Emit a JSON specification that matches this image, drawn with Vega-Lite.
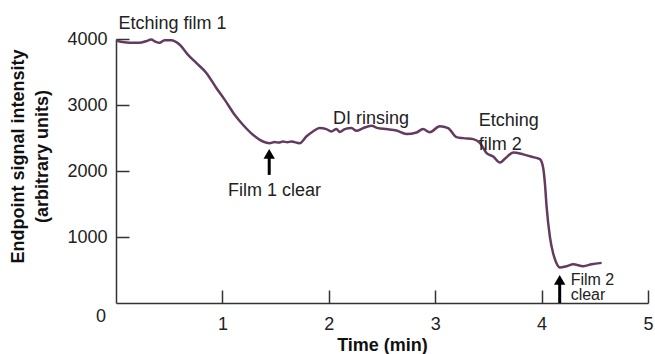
{
  "$schema": "https://vega.github.io/schema/vega-lite/v6.json",
  "width": 532,
  "height": 264,
  "autosize": "none",
  "padding": {"left": 116, "top": 39, "right": 7, "bottom": 51},
  "background": "white",
  "config": {"view": {"stroke": null}, "font": "Liberation Sans"},
  "datasets": {
    "curve": [
      {"t": 0.0, "v": 3977}, {"t": 0.06, "v": 3955}, {"t": 0.127, "v": 3942}, {"t": 0.221, "v": 3942},
      {"t": 0.28, "v": 3965}, {"t": 0.331, "v": 3992}, {"t": 0.37, "v": 3960}, {"t": 0.409, "v": 3942},
      {"t": 0.456, "v": 3982}, {"t": 0.519, "v": 3982}, {"t": 0.597, "v": 3916}, {"t": 0.675, "v": 3764},
      {"t": 0.754, "v": 3638}, {"t": 0.849, "v": 3486}, {"t": 0.943, "v": 3258}, {"t": 1.021, "v": 3081},
      {"t": 1.115, "v": 2853}, {"t": 1.193, "v": 2701}, {"t": 1.287, "v": 2549}, {"t": 1.381, "v": 2447},
      {"t": 1.444, "v": 2422}, {"t": 1.491, "v": 2438}, {"t": 1.53, "v": 2430}, {"t": 1.569, "v": 2447},
      {"t": 1.61, "v": 2435}, {"t": 1.648, "v": 2447}, {"t": 1.726, "v": 2422}, {"t": 1.789, "v": 2523},
      {"t": 1.851, "v": 2599}, {"t": 1.914, "v": 2650}, {"t": 1.977, "v": 2635}, {"t": 2.024, "v": 2599},
      {"t": 2.072, "v": 2635}, {"t": 2.103, "v": 2590}, {"t": 2.15, "v": 2635}, {"t": 2.213, "v": 2650},
      {"t": 2.26, "v": 2609}, {"t": 2.322, "v": 2650}, {"t": 2.401, "v": 2685}, {"t": 2.463, "v": 2650},
      {"t": 2.542, "v": 2635}, {"t": 2.636, "v": 2614}, {"t": 2.73, "v": 2559}, {"t": 2.824, "v": 2584},
      {"t": 2.886, "v": 2635}, {"t": 2.949, "v": 2587}, {"t": 3.043, "v": 2678}, {"t": 3.121, "v": 2650},
      {"t": 3.2, "v": 2514}, {"t": 3.262, "v": 2498}, {"t": 3.357, "v": 2483}, {"t": 3.42, "v": 2427},
      {"t": 3.483, "v": 2271}, {"t": 3.545, "v": 2219}, {"t": 3.608, "v": 2128}, {"t": 3.671, "v": 2210},
      {"t": 3.733, "v": 2280}, {"t": 3.827, "v": 2252}, {"t": 3.921, "v": 2210}, {"t": 3.984, "v": 2179},
      {"t": 4.015, "v": 2047}, {"t": 4.031, "v": 1815}, {"t": 4.047, "v": 1459}, {"t": 4.078, "v": 1003},
      {"t": 4.109, "v": 751}, {"t": 4.141, "v": 599}, {"t": 4.172, "v": 538}, {"t": 4.235, "v": 558},
      {"t": 4.297, "v": 588}, {"t": 4.391, "v": 558}, {"t": 4.47, "v": 588}, {"t": 4.564, "v": 608}
    ],
    "arrows": [
      {"t": 1.44, "v": 1941, "v2": 2260},
      {"t": 4.17, "v": 0, "v2": 350}
    ],
    "heads": [
      {"t": 1.44, "v": 2260},
      {"t": 4.17, "v": 350}
    ],
    "bigLabels": [
      {"t": 0.024, "v": 4155, "label": "Etching film 1"},
      {"t": 2.04, "v": 2716, "label": "DI rinsing"},
      {"t": 3.41, "v": 2675, "label": "Etching|film 2"},
      {"t": 1.052, "v": 1622, "label": "Film 1 clear"}
    ],
    "smallLabels": [
      {"t": 4.273, "v": 280, "label": "Film 2|clear"}
    ],
    "zero": [
      {"t": 0, "v": 0, "label": "0"}
    ]
  },
  "layer": [
    {
      "data": {"name": "curve"},
      "mark": {"type": "line", "color": "#633b5e", "strokeWidth": 2.5, "interpolate": "monotone"},
      "encoding": {
        "x": {
          "field": "t", "type": "quantitative",
          "scale": {"domain": [0, 5], "nice": false, "zero": false},
          "axis": {
            "values": [1, 2, 3, 4, 5], "format": "d", "title": "Time (min)", "grid": false,
            "tickSize": -13, "labelPadding": 25, "labelFlush": false, "labelOverlap": false,
            "domainColor": "#333", "tickColor": "#333", "domainWidth": 1.5, "tickWidth": 1.5,
            "labelFont": "Liberation Sans", "labelFontSize": 18, "labelColor": "#222",
            "titleFont": "Liberation Sans", "titleFontSize": 18, "titleFontWeight": "bold", "titleColor": "#111",
            "titleY": 47, "titleBaseline": "alphabetic"
          }
        },
        "y": {
          "field": "v", "type": "quantitative",
          "scale": {"domain": [0, 4000], "nice": false},
          "axis": {
            "values": [1000, 2000, 3000, 4000], "format": "d", "title": ["Endpoint signal intensity", "(arbitrary units)"], "grid": false,
            "tickSize": -13, "labelPadding": 22, "labelOverlap": false, "labelFlush": false,
            "domainColor": "#333", "tickColor": "#333", "domainWidth": 1.5, "tickWidth": 1.5,
            "labelFont": "Liberation Sans", "labelFontSize": 18, "labelColor": "#222",
            "titleFont": "Liberation Sans", "titleFontSize": 18, "titleFontWeight": "bold", "titleColor": "#111",
            "titleAngle": -90, "titleAlign": "center", "titleBaseline": "middle", "titleLineHeight": 24,
            "titleX": -98, "titleY": 117
          }
        }
      }
    },
    {
      "data": {"name": "arrows"},
      "mark": {"type": "rule", "color": "#000", "strokeWidth": 3},
      "encoding": {
        "x": {"field": "t", "type": "quantitative"},
        "y": {"field": "v", "type": "quantitative"},
        "y2": {"field": "v2"}
      }
    },
    {
      "data": {"name": "heads"},
      "mark": {"type": "point", "shape": "triangle-up", "filled": true, "color": "#000", "size": 130, "opacity": 1},
      "encoding": {
        "x": {"field": "t", "type": "quantitative"},
        "y": {"field": "v", "type": "quantitative"}
      }
    },
    {
      "data": {"name": "bigLabels"},
      "mark": {"type": "text", "align": "left", "baseline": "alphabetic", "font": "Liberation Sans", "fontSize": 18, "color": "#222", "lineBreak": "|", "lineHeight": 24},
      "encoding": {
        "x": {"field": "t", "type": "quantitative"},
        "y": {"field": "v", "type": "quantitative"},
        "text": {"field": "label"}
      }
    },
    {
      "data": {"name": "smallLabels"},
      "mark": {"type": "text", "align": "left", "baseline": "alphabetic", "font": "Liberation Sans", "fontSize": 16, "color": "#222", "lineBreak": "|", "lineHeight": 15},
      "encoding": {
        "x": {"field": "t", "type": "quantitative"},
        "y": {"field": "v", "type": "quantitative"},
        "text": {"field": "label"}
      }
    },
    {
      "data": {"name": "zero"},
      "mark": {"type": "text", "align": "center", "baseline": "middle", "font": "Liberation Sans", "fontSize": 18, "color": "#222", "dx": -15, "dy": 14},
      "encoding": {
        "x": {"field": "t", "type": "quantitative"},
        "y": {"field": "v", "type": "quantitative"},
        "text": {"field": "label"}
      }
    }
  ]
}
